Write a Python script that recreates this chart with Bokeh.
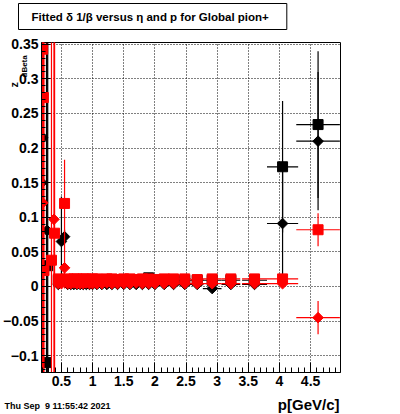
import numpy as np
from bokeh.plotting import figure
from bokeh.models import FixedTicker, Label
from bokeh.embed import file_html
from bokeh.resources import INLINE

# ---- data: momentum bins (GeV/c) and half widths ----
p_bins = [0.45, 0.5, 0.55, 0.6, 0.65, 0.7, 0.75, 0.8, 0.85, 0.9, 0.95, 1.0, 1.07, 1.15, 1.23, 1.31,
          1.4, 1.5, 1.6, 1.7, 1.8, 1.9, 2.0, 2.15, 2.3, 2.48, 2.68, 2.92, 3.22, 3.6, 4.05, 4.62]
p_half = [0.025] * 11 + [0.03, 0.04, 0.04, 0.04, 0.04, 0.05, 0.05, 0.05, 0.05, 0.05, 0.05, 0.05,
                         0.075, 0.075, 0.1, 0.1, 0.15, 0.15, 0.2, 0.25, 0.35]

# red squares
rsq_y = [0.011, 0.010, 0.120, 0.011, 0.010, 0.011, 0.011, 0.010, 0.011, 0.011, 0.010, 0.011, 0.011,
         0.010, 0.011, 0.011, 0.010, 0.011, 0.011, 0.010, 0.011, 0.011, 0.010, 0.011, 0.011, 0.011,
         0.010, 0.011, 0.011, 0.011, 0.011, 0.082]
rsq_ey = [0.003] * 2 + [0.063] + [0.003] * 28 + [0.024]
# red diamonds
rdi_y = [0.004, 0.004, 0.027, 0.004, 0.004, 0.005, 0.004, 0.004, 0.004, 0.005, 0.004, 0.004, 0.004,
         0.004, 0.005, 0.004, 0.004, 0.004, 0.004, 0.005, 0.004, 0.004, 0.004, 0.004, 0.004, 0.004,
         0.004, 0.004, 0.004, 0.004, 0.004, -0.045]
rdi_ey = [0.003] * 2 + [0.03] + [0.003] * 28 + [0.024]
# black squares
bsq_y = [0.009] * 21 + [0.0125] + [0.009] * 8 + [0.173, 0.234]
bsq_ey = [0.003] * 30 + [0.095, 0.106]
# black diamonds
bdi_y = [0.003, 0.065, 0.072] + [0.003] * 24 + [-0.003, 0.003, 0.003, 0.091, 0.210]
bdi_ey = [0.003, 0.065, 0.01] + [0.003] * 27 + [0.09, 0.10]

# low-momentum points with very large errors
rsq_lo_p = [0.20, 0.21, 0.22, 0.34, 0.39]
rsq_lo_y = [0.343, 0.273, 0.023, 0.038, 0.077]
rsq_lo_ey = [0.6, 0.6, 0.6, 0.6, 0.6]
rdi_lo_p = [0.20, 0.38]
rdi_lo_y = [0.121, 0.097]
rdi_lo_ey = [0.6, 0.6]
bsq_lo_p = [0.26, 0.28]
bsq_lo_y = [-0.11, 0.03]
bsq_lo_ey = [0.6, 0.6]
bdi_lo_p = [0.185, 0.2, 0.27]
bdi_lo_y = [0.15, 0.215, 0.081]
bdi_lo_ey = [0.6, 0.6, 0.6]
lo_half = 0.01

x_ticks = [0.5, 1, 1.5, 2, 2.5, 3, 3.5, 4, 4.5]
x_tick_labels = ["0.5", "1", "1.5", "2", "2.5", "3", "3.5", "4", "4.5"]
y_ticks = [-0.1, -0.05, 0, 0.05, 0.1, 0.15, 0.2, 0.25, 0.3, 0.35]
y_tick_labels = ["\u22120.1", "\u22120.05", "0", "0.05", "0.1", "0.15", "0.2", "0.25", "0.3", "0.35"]

FONT = "Liberation Sans"
X0, X1 = 0.18, 4.98
Y0, Y1 = -0.1243, 0.3526
FL, FR, FT, FB = 40, 340, 42, 372  # frame edges in page pixels

p = figure(width=400, height=414, x_range=(X0, X1), y_range=(Y0, Y1),
           min_border_left=FL, min_border_right=400 - FR, min_border_top=FT, min_border_bottom=414 - FB,
           output_backend="svg", toolbar_location=None)
p.background_fill_color = "white"
p.border_fill_color = "white"
p.outline_line_color = "black"
p.outline_line_width = 1

p.xaxis.ticker = FixedTicker(ticks=x_ticks, minor_ticks=list(np.round(np.arange(0.2, 5.0, 0.1), 3)))
p.yaxis.ticker = FixedTicker(ticks=y_ticks, minor_ticks=list(np.round(np.arange(-0.12, 0.355, 0.01), 3)))
p.xaxis.major_label_overrides = {t: l for t, l in zip(x_ticks, x_tick_labels)}
p.yaxis.major_label_overrides = {t: l for t, l in zip(y_ticks, y_tick_labels)}
for ax in (p.xaxis, p.yaxis):
    ax.major_label_text_font = FONT
    ax.major_label_text_font_style = "bold"
    ax.major_label_text_font_size = "14px"
    ax.major_label_text_color = "black"
    ax.axis_line_color = "black"
    ax.major_tick_line_color = "black"
    ax.minor_tick_line_color = "black"
    ax.major_tick_out = 0
    ax.minor_tick_out = 0
    ax.major_label_standoff = 3
p.xaxis.major_tick_in = 10
p.xaxis.minor_tick_in = 5
p.yaxis.major_tick_in = 9
p.yaxis.minor_tick_in = 4

for g in (p.xgrid, p.ygrid):
    g.grid_line_color = "black"
    g.grid_line_dash = "1 2"
    g.grid_line_width = 1


def draw(px, py, ey, ex, color, marker):
    px = np.asarray(px, float); py = np.asarray(py, float)
    ey = np.asarray(ey, float); ex = np.asarray(ex, float)
    p.segment(px - ex, py, px + ex, py, line_color=color, line_width=1.2)
    p.segment(px, py - ey, px, py + ey, line_color=color, line_width=1.2)
    if marker == "square":
        p.scatter(px, py, marker="square", size=10, fill_color=color, line_color=color)
    else:
        p.scatter(px, py, marker="square", angle=np.pi / 4, size=7.5, fill_color=color, line_color=color)


# black first, red on top
draw(bsq_lo_p, bsq_lo_y, bsq_lo_ey, [lo_half] * len(bsq_lo_p), "black", "square")
draw(bdi_lo_p, bdi_lo_y, bdi_lo_ey, [lo_half] * len(bdi_lo_p), "black", "diamond")
draw(p_bins, bsq_y, bsq_ey, p_half, "black", "square")
draw(p_bins, bdi_y, bdi_ey, p_half, "black", "diamond")
draw(rsq_lo_p, rsq_lo_y, rsq_lo_ey, [lo_half] * len(rsq_lo_p), "red", "square")
draw(rdi_lo_p, rdi_lo_y, rdi_lo_ey, [lo_half] * len(rdi_lo_p), "red", "diamond")
draw(p_bins, rsq_y, rsq_ey, p_half, "red", "square")
draw(p_bins, rdi_y, rdi_ey, p_half, "red", "diamond")

# ---- texts: labels placed in side panels (screen units relative to each panel box) ----
title = Label(x=17 - FL, y=FT - 16, x_units="screen", y_units="screen",
              text="Fitted \u03b4 1/\u03b2 versus \u03b7 and p for Global pion+",
              text_font=FONT, text_font_style="bold", text_font_size="11.5px", text_color="black",
              text_baseline="middle", text_align="left",
              border_line_color="black", border_line_width=1,
              background_fill_color="white")
try:
    title.padding = dict(left=13, right=18, top=7, bottom=7)
except Exception:
    title.padding = (13, 18, 7, 7)
p.add_layout(title, "above")

H_TITLE = 29  # approx height of the title panel
p.add_layout(Label(x=3 - FL, y=(FT - H_TITLE) - 402, x_units="screen", y_units="screen",
                   text="Thu Sep\u00a0 9 11:55:42 2021",
                   text_font=FONT, text_font_style="bold", text_font_size="9px", text_color="black",
                   text_align="left", text_baseline="middle"), "above")

p.add_layout(Label(x=338 - FL, y=1, x_units="screen", y_units="screen", text="p[GeV/c]",
                   text_font=FONT, text_font_style="bold", text_font_size="15px", text_color="black",
                   text_align="right", text_baseline="middle"), "below")

W_Z = 9  # approx width of the z label panel
p.add_layout(Label(x=13 - FR, y=FB - 87, x_units="screen", y_units="screen", text="z",
                   text_font=FONT, text_font_style="bold", text_font_size="11px", text_color="black",
                   angle=np.pi / 2, text_align="left", text_baseline="middle"), "right")
p.add_layout(Label(x=21 - FR - W_Z, y=FB - 77, x_units="screen", y_units="screen", text="dBeta",
                   text_font=FONT, text_font_style="bold", text_font_size="8px", text_color="black",
                   angle=np.pi / 2, text_align="left", text_baseline="middle"), "right")

open("out.html", "w").write(file_html(p, INLINE))
